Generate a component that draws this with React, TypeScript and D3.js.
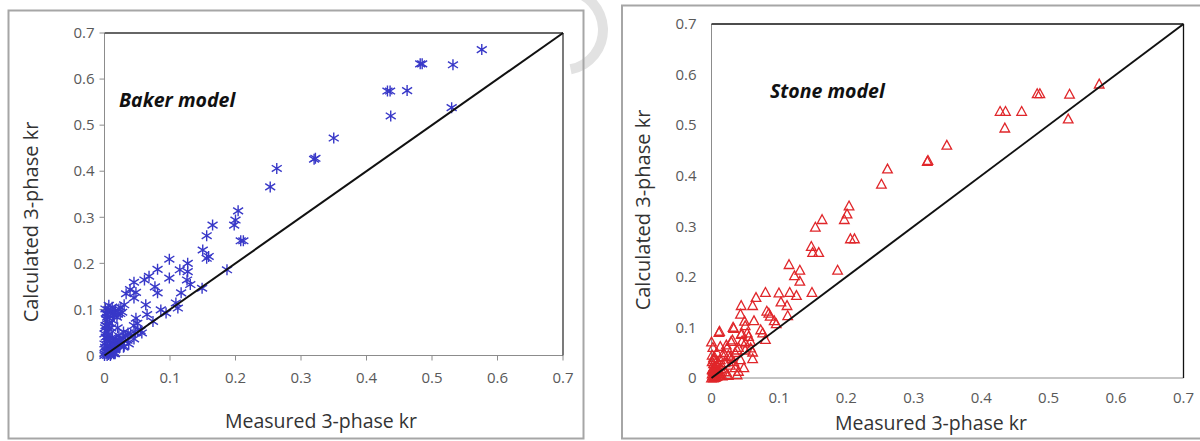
import React from "react";
import * as d3 from "d3";

const ticks = [0, 0.1, 0.2, 0.3, 0.4, 0.5, 0.6, 0.7];
const tickLabels = ["0", "0.1", "0.2", "0.3", "0.4", "0.5", "0.6", "0.7"];

const bakerX = [
  0.576, 0.482, 0.485, 0.532, 0.432, 0.436, 0.462, 0.530, 0.437, 0.350, 0.320, 0.322, 0.263, 0.253,
  0.204, 0.200, 0.198, 0.165, 0.156, 0.208, 0.212, 0.150, 0.156, 0.159, 0.149, 0.187, 0.127, 0.127,
  0.115, 0.099, 0.099, 0.081, 0.068, 0.061, 0.077, 0.081, 0.126, 0.131, 0.117, 0.109, 0.112, 0.094,
  0.086, 0.045, 0.039, 0.048, 0.045, 0.033, 0.030, 0.063, 0.065, 0.074, 0.048, 0.045, 0.051, 0.057,
  0.036, 0.050,
  0.0015, 0.0066, 0.0117, 0.0168, 0.022, 0.009, 0.014, 0.004, 0.019, 0.024, 0.027, 0.012, 0.0015,
  0.0066, 0.0, 0.004, 0.0, 0.0015, 0.0, 0.0066, 0.009, 0.014, 0.019, 0.027, 0.032, 0.040, 0.047,
  0.055, 0.029, 0.035, 0.022, 0.012, 0.017, 0.024, 0.045, 0.004, 0.0, 0.009, 0.014, 0.029, 0.037,
  0.020, 0.030, 0.008, 0.003, 0.016, 0.026,
  0.002, 0.005, 0.003, 0.007, 0.001, 0.004, 0.006, 0.002, 0.008, 0.010, 0.005, 0.003, 0.011, 0.013,
  0.007, 0.016, 0.018, 0.021, 0.010, 0.006, 0.002, 0.009, 0.015, 0.025, 0.004, 0.012, 0.018, 0.001,
  0.006, 0.020, 0.023, 0.010, 0.003, 0.014, 0.008, 0.016,
];
const bakerY = [
  0.664, 0.633, 0.633, 0.631, 0.574, 0.574, 0.575, 0.538, 0.520, 0.472, 0.426, 0.428, 0.406, 0.366,
  0.314, 0.294, 0.283, 0.283, 0.260, 0.249, 0.249, 0.229, 0.211, 0.215, 0.146, 0.186, 0.200, 0.182,
  0.186, 0.209, 0.168, 0.187, 0.172, 0.164, 0.149, 0.136, 0.164, 0.154, 0.136, 0.114, 0.103, 0.092,
  0.099, 0.159, 0.143, 0.137, 0.125, 0.134, 0.110, 0.110, 0.089, 0.074, 0.081, 0.065, 0.056, 0.049,
  0.049, 0.070,
  0.101, 0.109, 0.105, 0.098, 0.101, 0.094, 0.087, 0.083, 0.083, 0.091, 0.094, 0.076, 0.065,
  0.058, 0.047, 0.036, 0.025, 0.014, 0.004, 0.007, 0.018, 0.025, 0.033, 0.036, 0.043, 0.047, 0.049,
  0.054, 0.051, 0.033, 0.043, 0.036, 0.014, 0.022, 0.036, 0.0, 0.0, 0.0, 0.004, 0.018, 0.025,
  0.060, 0.020, 0.070, 0.090, 0.030, 0.028,
  0.092, 0.088, 0.078, 0.070, 0.060, 0.052, 0.045, 0.040, 0.032, 0.028, 0.020, 0.010, 0.015, 0.022,
  0.005, 0.012, 0.020, 0.024, 0.003, 0.002, 0.008, 0.098, 0.092, 0.104, 0.030, 0.040, 0.035, 0.018,
  0.100, 0.090, 0.032, 0.060, 0.065, 0.008, 0.012, 0.004,
];

const stoneX = [
  0.575, 0.483, 0.487, 0.531, 0.428, 0.436, 0.460, 0.435, 0.529, 0.349, 0.320, 0.321, 0.261, 0.252,
  0.204, 0.201, 0.197, 0.164, 0.154, 0.206, 0.212, 0.148, 0.150, 0.159, 0.187, 0.115, 0.131, 0.123,
  0.131, 0.149, 0.126, 0.116, 0.100, 0.103, 0.112, 0.113, 0.080, 0.066, 0.061, 0.044, 0.043, 0.082,
  0.085, 0.087, 0.093, 0.096, 0.063, 0.049, 0.050, 0.032, 0.011, 0.012, 0.073, 0.076, 0.080, 0.053,
  0.044, 0.058, 0.050, 0.029, 0.000, 0.061, 0.061, 0.040, 0.025,
  0.033, 0.045, 0.031, 0.045, 0.055, 0.058, 0.050, 0.038, 0.023, 0.018, 0.028, 0.013, 0.003, 0.033,
  0.043, 0.048, 0.038, 0.023, 0.008, 0.003, 0.000, 0.002, 0.004, 0.006, 0.003, 0.008, 0.010, 0.012,
  0.001, 0.005, 0.015, 0.020, 0.020, 0.018, 0.025, 0.030, 0.035, 0.028, 0.035, 0.002, 0.008, 0.013,
  0.022, 0.040, 0.001, 0.006, 0.016,
  0.001, 0.003, 0.005, 0.002, 0.007, 0.004, 0.009, 0.001, 0.006, 0.011, 0.003, 0.008, 0.014, 0.002,
  0.005, 0.010,
];
const stoneY = [
  0.581, 0.562, 0.562, 0.561, 0.527, 0.527, 0.527, 0.494, 0.512, 0.460, 0.428, 0.430, 0.413, 0.383,
  0.340, 0.324, 0.313, 0.313, 0.298, 0.275, 0.275, 0.260, 0.248, 0.248, 0.213, 0.224, 0.213, 0.202,
  0.191, 0.169, 0.163, 0.169, 0.168, 0.150, 0.143, 0.123, 0.169, 0.159, 0.143, 0.143, 0.126, 0.132,
  0.128, 0.122, 0.113, 0.107, 0.113, 0.112, 0.103, 0.100, 0.090, 0.092, 0.095, 0.089, 0.076, 0.089,
  0.086, 0.072, 0.069, 0.072, 0.071, 0.051, 0.038, 0.013, 0.005,
  0.098, 0.088, 0.075, 0.072, 0.082, 0.059, 0.055, 0.055, 0.059, 0.042, 0.042, 0.036, 0.036, 0.032,
  0.036, 0.020, 0.006, 0.006, 0.009, 0.000, 0.000, 0.005, 0.012, 0.020, 0.028, 0.003, 0.015, 0.008,
  0.045, 0.040, 0.025, 0.030, 0.012, 0.050, 0.045, 0.038, 0.050, 0.025, 0.020, 0.060, 0.050, 0.062,
  0.065, 0.060, 0.016, 0.002, 0.004,
  0.008, 0.002, 0.010, 0.018, 0.004, 0.022, 0.012, 0.032, 0.016, 0.005, 0.040, 0.025, 0.018, 0.014,
  0.001, 0.030,
];

const FONT = "'Open Sans', 'Noto Sans', sans-serif";
const BLUE = "#3838c8";
const RED = "#e0262a";

type PanelProps = {
  xs: number[];
  ys: number[];
  x0: number; x1: number; y0: number; y1: number;
  marker: "star" | "tri";
  label: string; labelX: number; labelY: number;
  yTitleX: number; yTitleY: number;
  xTitleX: number; xTitleY: number;
  showTicks: boolean;
  frameColor: string;
  tickLabelGap: number;
  xLabelY: number;
};

function Panel(p: PanelProps) {
  const x = d3.scaleLinear().domain([0, 0.7]).range([p.x0, p.x1]);
  const y = d3.scaleLinear().domain([0, 0.7]).range([p.y0, p.y1]);
  const diag = d3.line<number>().x((d) => x(d)).y((d) => y(d))([0, 0.7]) || "";
  const starPath = "M0,-5.5V5.5M-5,-3.2L5,3.2M-5,3.2L5,-3.2";
  const triPath = "M0,-5L4.8,3.8L-4.8,3.8Z";
  return (
    <g>
      <line x1={p.x0} x2={p.x0} y1={p.y0} y2={p.y1} stroke="#8c8c8c" strokeWidth={1} />
      <line x1={p.x0} x2={p.x1} y1={p.y0} y2={p.y0} stroke="#8c8c8c" strokeWidth={1} />
      <line x1={p.x0} x2={p.x1} y1={p.y1} y2={p.y1} stroke={p.frameColor} strokeWidth={1.3} />
      <line x1={p.x1} x2={p.x1} y1={p.y1} y2={p.y0} stroke={p.frameColor} strokeWidth={1.3} />
      {p.showTicks &&
        ticks.map((t, i) => (
          <g key={"t" + i}>
            <line x1={x(t)} x2={x(t)} y1={p.y0} y2={p.y0 + 5} stroke="#8c8c8c" />
            <line x1={p.x0 - 5} x2={p.x0} y1={y(t)} y2={y(t)} stroke="#8c8c8c" />
          </g>
        ))}
      {ticks.map((t, i) => (
        <text key={"xl" + i} x={x(t)} y={p.xLabelY} textAnchor="middle" fontFamily={FONT}
          fontSize={15} fill="#595959">{tickLabels[i]}</text>
      ))}
      {ticks.map((t, i) => (
        <text key={"yl" + i} x={p.x0 - p.tickLabelGap} y={y(t)} dy="0.35em" textAnchor="end"
          fontFamily={FONT} fontSize={15} fill="#595959">{tickLabels[i]}</text>
      ))}
      {p.xs.map((v, i) => (
        <path key={"p" + i} d={p.marker === "star" ? starPath : triPath}
          transform={`translate(${x(v)},${y(p.ys[i])})`}
          fill="none" stroke={p.marker === "star" ? BLUE : RED}
          strokeWidth={p.marker === "star" ? 1.4 : 1.3} />
      ))}
      <path d={diag} stroke="#111" strokeWidth={2} fill="none" />
      <text x={p.labelX} y={p.labelY} fontFamily={FONT} fontSize={19.5} fontWeight="bold"
        fontStyle="italic" fill="#111">{p.label}</text>
      <text transform={`translate(${p.yTitleX},${p.yTitleY}) rotate(-90)`} textAnchor="middle"
        dy="0.35em" fontFamily={FONT} fontSize={20} fill="#333">Calculated 3-phase kr</text>
      <text x={p.xTitleX} y={p.xTitleY} textAnchor="middle" fontFamily={FONT}
        fontSize={19.5} fill="#333">Measured 3-phase kr</text>
    </g>
  );
}

export default function App() {
  return (
    <svg width={1200} height={441} style={{ position: "absolute", left: 0, top: 0, background: "#fff" }}>
      <rect x={0} y={0} width={1200} height={441} fill="#fff" />
      <path d={d3.arc()({ innerRadius: 35, outerRadius: 45, startAngle: 0.1, endAngle: 2.95 }) || ""}
        transform="translate(563,30)" fill="#e2e2e2" />
      <rect x={8.5} y={10.5} width={575} height={428} fill="none" stroke="#a6a6a6" strokeWidth={2} />
      <rect x={622} y={5.5} width={590} height={433} fill="none" stroke="#a6a6a6" strokeWidth={2} />
      <Panel xs={bakerX} ys={bakerY} x0={104.5} x1={563} y0={355.5} y1={33}
        marker="star" label="Baker model" labelX={119} labelY={107}
        yTitleX={31} yTitleY={222} xTitleX={321} xTitleY={428}
        showTicks={true} frameColor="#333" tickLabelGap={10} xLabelY={383} />
      <Panel xs={stoneX} ys={stoneY} x0={711.5} x1={1183.5} y0={378} y1={24}
        marker="tri" label="Stone model" labelX={770} labelY={98}
        yTitleX={643} yTitleY={210} xTitleX={931} xTitleY={430}
        showTicks={false} frameColor="#111" tickLabelGap={15} xLabelY={403} />
    </svg>
  );
}
